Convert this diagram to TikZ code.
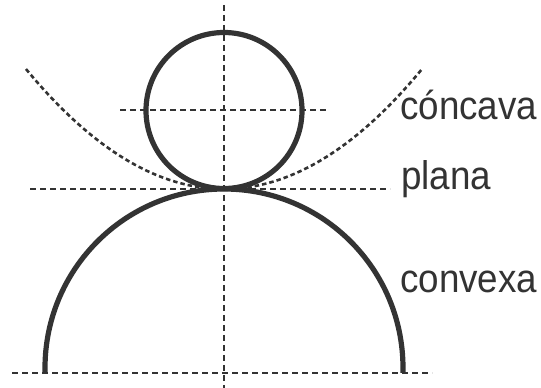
\documentclass[tikz,border=0pt]{standalone}
\usepackage{fontspec}
\newfontfamily\labfont[FakeStretch=0.92]{Liberation Sans}
\definecolor{ink}{HTML}{333333}
\tikzset{
  solidline/.style={draw=ink, line width=5.2pt},
  guide/.style={draw=ink, line width=2.4pt, dash pattern=on 6pt off 4pt},
  curveguide/.style={draw=ink, line width=2.6pt, dash pattern=on 4.5pt off 3pt},
  lab/.style={text=ink, font=\labfont\fontsize{40}{46}\selectfont, inner sep=0pt, anchor=base west}
}
\begin{document}
\begin{tikzpicture}[x=1pt,y=1pt]
\path[use as bounding box] (0,0) rectangle (541,388);
% guides
\coordinate (vtop) at (224,383);
\coordinate (vbot) at (224,0);
\draw[guide] (vtop) -- (vbot);
\coordinate (hl) at (120,278);
\coordinate (hr) at (328,278);
\draw[guide] (hl) -- (hr);
\coordinate (pl) at (30,199);
\coordinate (pr) at (390,199);
\draw[guide] (pl) -- (pr);
\coordinate (bl) at (12,15);
\coordinate (br) at (432,15);
\draw[guide] (bl) -- (br);
% concave parabola
\draw[curveguide] plot[domain=-1.98:1.98, samples=121] ({224+100*\x},{199+30.6*\x*\x});
% small circle
\coordinate (sc) at (224,277.5);
\draw[solidline] (sc) circle[radius=78];
% big semicircle
\coordinate (al) at (45,15);
\draw[solidline] (al) -- (45,20) arc[start angle=180, end angle=0, radius=179] -- (403,15);
% labels
\node[lab] (concava) at (400,268) {cóncava};
\node[lab] (plana) at (401,198) {plana};
\node[lab] (convexa) at (400,95) {convexa};
\end{tikzpicture}
\end{document}
